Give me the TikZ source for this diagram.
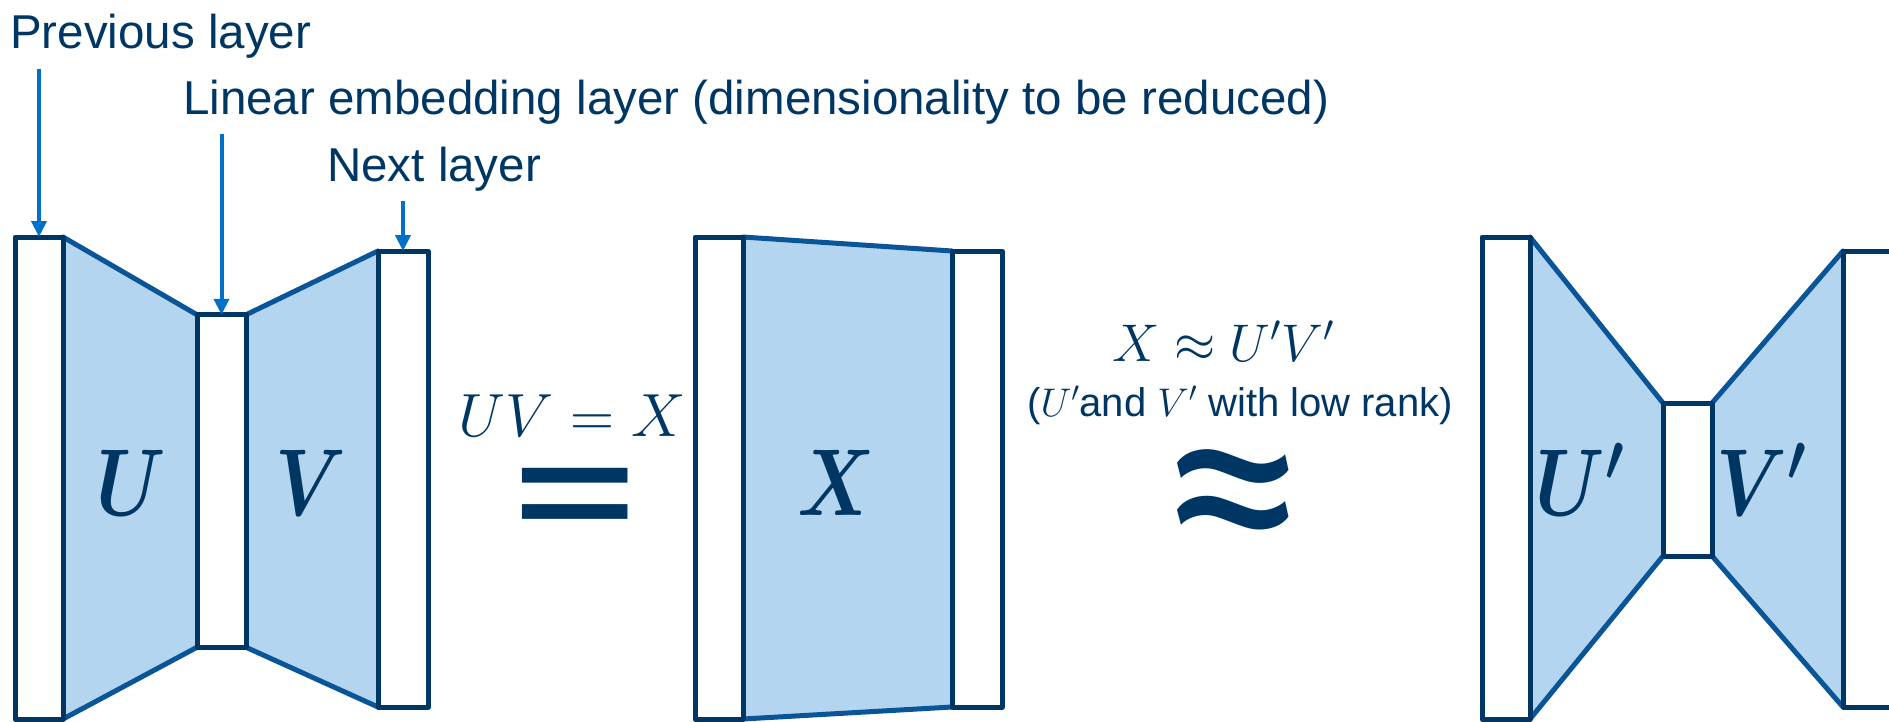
\RequirePackage{fix-cm}
\documentclass[tikz,border=0pt]{standalone}
\usepackage{fontspec}
\setmainfont{Liberation Sans}
\newfontfamily\symfnt{Carlito}
\usepackage{graphicx}
\usetikzlibrary{arrows.meta}
\definecolor{navy}{HTML}{003663}
\definecolor{edgec}{HTML}{0A5498}
\definecolor{fillc}{HTML}{B4D5EF}
\definecolor{arrowc}{HTML}{0070C8}
\begin{document}
\begin{tikzpicture}[x=1pt,y=-1pt,
  layerbox/.style={draw=navy, line width=5pt, fill=white, inner sep=0pt, line join=round},
  trapfill/.style={fill=fillc, draw=none},
  trapedge/.style={draw=edgec, line width=5pt, line cap=round},
  arr/.style={draw=arrowc, line width=4pt, -{Triangle[length=16pt,width=15pt]}},
  lbl/.style={text=navy, inner sep=0pt, font=\fontsize{47.5}{57}\selectfont},
  bigm/.style={text=navy, inner sep=0pt, font=\fontsize{95}{95}\selectfont\boldmath},
  eqn/.style={text=navy, inner sep=0pt},
  bigsym/.style={text=navy, inner sep=0pt, font=\symfnt\fontsize{260}{260}\selectfont}
]
\useasboundingbox (0,0) rectangle (1889,721);
\clip (0,0) rectangle (1889,721);

% --- layer rectangles (positions only, drawn later on top) ---
\path node[layerbox, minimum width=43pt, minimum height=477pt] (prev) at (39,478) {}
      node[layerbox, minimum width=44pt, minimum height=327.5pt] (emb) at (221.5,481) {}
      node[layerbox, minimum width=45pt, minimum height=451pt] (next) at (403,479) {}
      node[layerbox, minimum width=43pt, minimum height=477pt] (xl) at (719,478) {}
      node[layerbox, minimum width=45pt, minimum height=451pt] (xr) at (977,479) {}
      node[layerbox, minimum width=43pt, minimum height=477pt] (pl) at (1506,478) {}
      node[layerbox, minimum width=44pt, minimum height=148pt] (pm) at (1687.5,479.5) {}
      node[layerbox, minimum width=45pt, minimum height=451pt] (pr) at (1868,479) {};

% --- trapezoids ---
\path[trapfill] (prev.north east) -- (emb.north west) -- (emb.south west) -- (prev.south east) -- cycle;
\path[trapfill] (emb.north east) -- (next.north west) -- (next.south west) -- (emb.south east) -- cycle;
\path[trapfill] (xl.north east) -- (xr.north west) -- (xr.south west) -- (xl.south east) -- cycle;
\path[trapfill] (pl.north east) -- (pm.north west) -- (pm.south west) -- (pl.south east) -- cycle;
\path[trapfill] (pm.north east) -- (pr.north west) -- (pr.south west) -- (pm.south east) -- cycle;
\draw[trapedge] (prev.north east) -- (emb.north west);
\draw[trapedge] (prev.south east) -- (emb.south west);
\draw[trapedge] (emb.north east) -- (next.north west);
\draw[trapedge] (emb.south east) -- (next.south west);
\draw[trapedge] (xl.north east) -- (xr.north west);
\draw[trapedge] (xl.south east) -- (xr.south west);
\draw[trapedge] (pl.north east) -- (pm.north west);
\draw[trapedge] (pl.south east) -- (pm.south west);
\draw[trapedge] (pm.north east) -- (pr.north west);
\draw[trapedge] (pm.south east) -- (pr.south west);

% --- redraw rectangles on top ---
\foreach \n in {prev,emb,next,xl,xr,pl,pm,pr}{
  \draw[navy, line width=5pt, fill=white, line join=round] (\n.north west) rectangle (\n.south east);
}

% --- labels inside ---
\node[bigm, anchor=base] (lu) at (131,515) {\scalebox{0.8}[1]{$U$}};
\node[bigm, anchor=base] (lv) at (311,515) {\scalebox{0.8}[1]{$V$}};
\node[bigm, anchor=base] (lx) at (836,515) {\scalebox{0.8}[1]{$X$}};
\node[bigm, anchor=base] (lup) at (1580,515) {\scalebox{0.8}[1]{$U'$}};
\node[bigm, anchor=base] (lvp) at (1761,515) {\scalebox{0.8}[1]{$V'$}};

% --- equations ---
\node[eqn, anchor=base, font=\fontsize{61}{61}\selectfont] (equv) at (572,436) {$UV = X$};
\node[bigsym] (bigeq) at (575,517) {\scalebox{1}[0.88]{=}};
\node[eqn, anchor=base, font=\fontsize{53}{53}\selectfont] (eqapp) at (1223,361) {$X \approx U'V'$};
\node[eqn, anchor=base, font=\fontsize{40}{40}\selectfont] (note) at (1240,416) {($U'$and $V'$ with low rank)};
\node[bigsym, font=\symfnt\fontsize{292}{292}\selectfont] (bigapp) at (1233,516) {≈};

% --- top labels and arrows ---
\node[lbl, anchor=base west] (tprev) at (10,48) {Previous layer};
\node[lbl, anchor=base west] (temb) at (183,114) {Linear embedding layer (dimensionality to be reduced)};
\node[lbl, anchor=base west] (tnext) at (327,181) {Next layer};
\coordinate (aprev) at (39,69);
\coordinate (aemb) at (221.5,134);
\coordinate (anext) at (403,201);
\draw[arr] (aprev) -- (prev.north);
\draw[arr] (aemb) -- (emb.north);
\draw[arr] (anext) -- (next.north);
\end{tikzpicture}
\end{document}
